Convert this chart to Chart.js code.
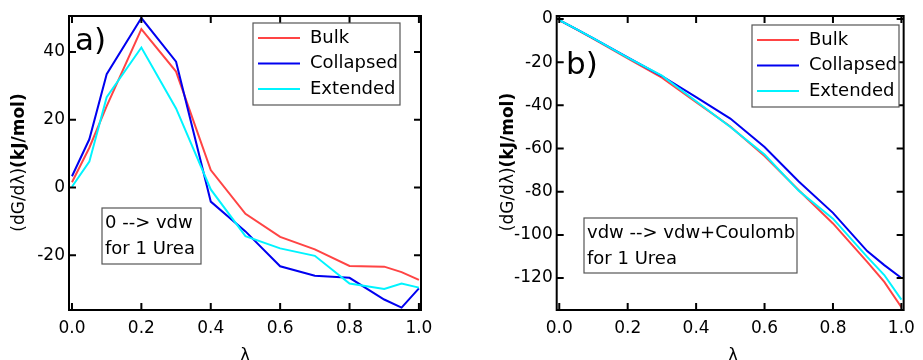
<!DOCTYPE html>
<html>
<head>
<meta charset="utf-8">
<script src="https://cdn.jsdelivr.net/npm/chart.js@4.4.1/dist/chart.umd.min.js"></script>
<style>
  body { margin: 0; background: #fff; }
  #wrap { position: relative; width: 923px; height: 360px; overflow: hidden; }
  .panel { position: absolute; top: 0; height: 360px; }
</style>
</head>
<body>
<div id="wrap">
  <div class="panel" style="left:0;width:460px"><canvas id="chartA"></canvas></div>
  <div class="panel" style="left:460px;width:463px"><canvas id="chartB"></canvas></div>
</div>
<script>
// lambda points (same for both panels)
const lambdas = [0, 0.05, 0.1, 0.2, 0.3, 0.4, 0.5, 0.6, 0.7, 0.8, 0.9, 0.95, 1.0];

// a) 0 --> vdw
const bulkA      = [1.5, 11.7, 24.0, 46.7, 34.2, 5.1, -7.8, -14.6, -18.3, -23.2, -23.4, -25.0, -27.3];
const collapsedA = [3.3, 14.2, 33.4, 50.0, 37.1, -4.2, -13.0, -23.3, -26.1, -26.7, -33.1, -35.5, -29.8];
const extendedA  = [0.2, 7.6, 26.6, 41.3, 23.3, -0.6, -14.4, -18.0, -20.2, -28.4, -30.0, -28.4, -29.6];

// b) vdw --> vdw+Coulomb
const bulkB      = [-0.5, -4.8, -9.2, -18.2, -27.2, -38.5, -49.8, -63.5, -79.3, -94.7, -112.5, -121.8, -133.5];
const collapsedB = [-0.5, -4.7, -9.0, -17.8, -26.4, -36.2, -46.1, -59.3, -75.3, -89.8, -107.5, -114.0, -120.0];
const extendedB  = [-0.5, -4.7, -9.0, -17.9, -26.2, -38.1, -50.0, -62.8, -79.6, -92.5, -110.2, -118.6, -130.0];

const seriesNames = ["Bulk", "Collapsed", "Extended"];
const seriesColors = ["#ff4444", "#0000f0", "#00f4ff"];

const xTicks = [0, 0.2, 0.4, 0.6, 0.8, 1.0];
const yTicksA = [-20, 0, 20, 40];
const yTicksB = [-120, -100, -80, -60, -40, -20, 0];

const FONT = "DejaVu Sans";

// frame with inward ticks on all four sides, legend box, note box, titles
const decorations = {
  id: "decorations",
  afterDraw(chart, args, o) {
    const ctx = chart.ctx;
    const { left, right, top, bottom } = chart.chartArea;
    const xs = chart.scales.x, ys = chart.scales.y;
    ctx.save();
    ctx.strokeStyle = "#000";
    ctx.lineWidth = 2;
    ctx.strokeRect(left, top, right - left, bottom - top);
    ctx.beginPath();
    xTicks.forEach(v => {
      const px = xs.getPixelForValue(v);
      ctx.moveTo(px, bottom); ctx.lineTo(px, bottom - 7);
      ctx.moveTo(px, top); ctx.lineTo(px, top + 7);
    });
    o.yTicks.forEach(v => {
      const py = ys.getPixelForValue(v);
      ctx.moveTo(left, py); ctx.lineTo(left + 7, py);
      ctx.moveTo(right, py); ctx.lineTo(right - 7, py);
    });
    ctx.stroke();

    // legend
    const lg = o.legend;
    ctx.fillStyle = "#fff";
    ctx.fillRect(lg.x, lg.y, lg.w, lg.h);
    ctx.lineWidth = 1.2;
    ctx.strokeStyle = "#555";
    ctx.strokeRect(lg.x, lg.y, lg.w, lg.h);
    ctx.font = "18px '" + FONT + "'";
    ctx.textBaseline = "middle";
    ctx.textAlign = "left";
    chart.data.datasets.forEach((ds, i) => {
      const yy = lg.y + 15 + i * 25.5;
      ctx.strokeStyle = ds.borderColor;
      ctx.lineWidth = 2;
      ctx.beginPath();
      ctx.moveTo(lg.x + 5, yy); ctx.lineTo(lg.x + 47, yy);
      ctx.stroke();
      ctx.fillStyle = "#000";
      ctx.fillText(ds.label, lg.x + 57, yy);
    });

    // note box
    const nb = o.note;
    ctx.lineWidth = 1.2;
    ctx.strokeStyle = "#555";
    ctx.strokeRect(nb.x, nb.y, nb.w, nb.h);
    ctx.fillStyle = "#000";
    nb.lines.forEach((t, i) => ctx.fillText(t, nb.x + 3, nb.y + 15 + i * 26));

    // panel letter
    ctx.font = "31px '" + FONT + "'";
    ctx.textBaseline = "alphabetic";
    ctx.fillText(o.letter.text, o.letter.x, o.letter.y);

    // x title
    ctx.font = "17px '" + FONT + "'";
    ctx.textAlign = "center";
    ctx.fillText("λ", o.xTitle.x, o.xTitle.y);

    // y title, mixed weights
    ctx.translate(o.yTitle.x, o.yTitle.y);
    ctx.rotate(-Math.PI / 2);
    const p1 = "(dG/dλ)", p2 = "(kJ/mol)";
    ctx.font = "17px '" + FONT + "'";
    const w1 = ctx.measureText(p1).width;
    ctx.font = "bold 17px '" + FONT + "'";
    const w2 = ctx.measureText(p2).width;
    ctx.textAlign = "left";
    ctx.textBaseline = "middle";
    let sx = -(w1 + w2) / 2;
    ctx.font = "17px '" + FONT + "'";
    ctx.fillText(p1, sx, 0);
    ctx.font = "bold 17px '" + FONT + "'";
    ctx.fillText(p2, sx + w1, 0);
    ctx.restore();
  }
};

function makeChart(id, values, cfg) {
  const datasets = values.map((vals, i) => ({
    label: seriesNames[i],
    data: lambdas.map((l, j) => ({ x: l, y: vals[j] })),
    borderColor: seriesColors[i],
    borderWidth: 2,
    pointRadius: 0,
    tension: 0,
    fill: false,
    order: values.length - 1 - i   // later series drawn on top
  }));
  return new Chart(document.getElementById(id), {
    type: "line",
    data: { datasets },
    plugins: [decorations],
    options: {
      responsive: true,
      maintainAspectRatio: false,
      animation: false,
      layout: { padding: { top: 16, right: cfg.padRight, bottom: 0, left: 0 } },
      plugins: {
        legend: { display: false },
        tooltip: { enabled: false },
        decorations: cfg.deco
      },
      scales: {
        x: {
          type: "linear",
          min: cfg.xMin, max: cfg.xMax,
          afterBuildTicks: s => { s.ticks = xTicks.map(v => ({ value: v })); },
          afterFit: s => { s.height = 50; },
          grid: { display: false, drawTicks: false },
          border: { display: false },
          ticks: {
            callback: v => v.toFixed(1),
            color: "#000",
            font: { family: FONT, size: 17 },
            padding: 8,
            maxRotation: 0,
            autoSkip: false
          }
        },
        y: {
          min: cfg.yMin, max: cfg.yMax,
          afterBuildTicks: s => { s.ticks = cfg.deco.yTicks.map(v => ({ value: v })); },
          afterFit: s => { s.width = cfg.yWidth; },
          grid: { display: false, drawTicks: false },
          border: { display: false },
          ticks: {
            color: "#000",
            font: { family: FONT, size: 17 },
            padding: 4,
            autoSkip: false
          }
        }
      }
    }
  });
}

makeChart("chartA", [bulkA, collapsedA, extendedA], {
  padRight: 39, yWidth: 69,
  xMin: -0.0086, xMax: 1.006, yMin: -36.2, yMax: 50.6,
  deco: {
    yTicks: yTicksA,
    legend: { x: 253, y: 23, w: 147, h: 82 },
    note: { x: 102, y: 208, w: 99, h: 56, lines: ["0 --> vdw", "for 1 Urea"] },
    letter: { text: "a)", x: 75, y: 50 },
    xTitle: { x: 245, y: 361 },
    yTitle: { x: 20, y: 162.5 }
  }
});

makeChart("chartB", [bulkB, collapsedB, extendedB], {
  padRight: 14, yWidth: 96.7,
  xMin: -0.0075, xMax: 1.0066, yMin: -134.8, yMax: 1.4,
  deco: {
    yTicks: yTicksB,
    legend: { x: 292, y: 25, w: 147, h: 82 },
    note: { x: 124, y: 218, w: 213, h: 55, lines: ["vdw --> vdw+Coulomb", "for 1 Urea"] },
    letter: { text: "b)", x: 106, y: 74 },
    xTitle: { x: 273, y: 361 },
    yTitle: { x: 49, y: 162 }
  }
});
</script>
</body>
</html>
